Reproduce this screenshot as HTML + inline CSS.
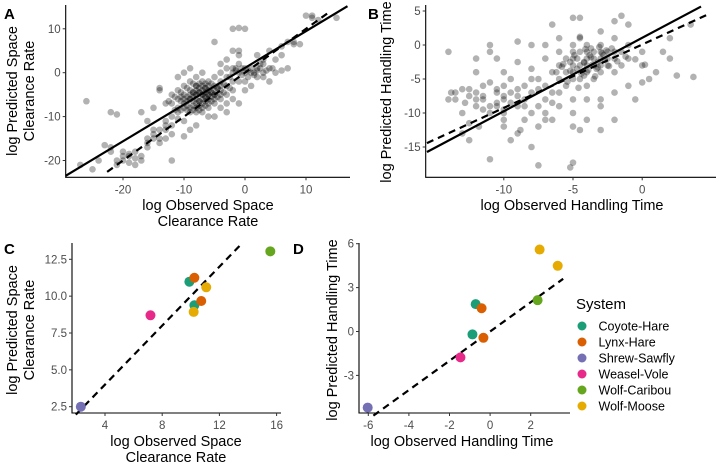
<!DOCTYPE html>
<html><head><meta charset="utf-8">
<style>
html,body{margin:0;padding:0;background:#fff;}
svg{display:block;font-family:"Liberation Sans Narrow","Liberation Sans",sans-serif;}
</style></head>
<body>
<svg id="fig" width="720" height="474" viewBox="0 0 720 474" xmlns="http://www.w3.org/2000/svg"></svg>
<script>
// Panel A data
const aX = [-27,-25,-24,-26,-22,-21,-23,-22,-20,-20,-19,-18,-17,-12,-16,-15,-14,-14,-15,-13,-13,-12,-16,-17,-15,-14,-14,-12,-11,-11,-10,-8,-9,-10,-18,-21,-20,-19,-16,-13,-12,
 -12,-11,-11,-10,-10,-10,-10,-9,-9,-9,-9,-9,-9,-8,-8,-8,-8,-8,-8,-8,-8,-8,-7,-7,-7,-7,-7,-7,-7,-7,-6,-6,-6,-6,-6,-6,-6,-5,-5,-5,-5,-5,-5,-4,-4,-4,-4,-3,-3,-3,-2,-2,-12,-13,-11,-10,-9,-7,-6,-5,-4,-3,-2,
 -7.5,-6.5,-8.5,-7.5,-6.5,-5.5,-8.5,-9.5,-10.5,-7.5,-6.5,-5.5,-4.5,-8.5,-7.5,-6.5,
 -10.5,-10.5,-10.5,-9.5,-9.5,-9.5,-9.5,-8.5,-8.5,-8.5,-8.5,-7.5,-7.5,-7.5,-7.5,-6.5,-6.5,-6.5,-6.5,-5.5,-5.5,-5.5,-4.5,-4.5,-3.5,-3.5,-2.5,-11.5,-11.5,-12.5,-8,-7,-6,-9,-10,-5,-4,
 -17,-18,-19,-16,-15,-21,-22,-13,-14,-11,
 -4,-3,-2,-2,-1,-1,0,0,1,1,2,2,3,3,4,5,4,1,-1,0,-1,-2,-1,-3,-2,0,-1,2,3,5,6,6,7,8,7,8,9,10,11,12,11,15,-5,-4,6,2,-3,-1,0,3,4,
 -1.5,-0.5,0.5,1.5,2.5,-2.5,-0.5,1.5,0.5,-1.5,3.5,4.5,2.5];
const aY = [-21,-22,-20,-6.5,-9,-9.5,-16.5,-17,-18,-19,-19,-18,-20,-20,-15,-13,-15,-16,-14,-12,-11,-10,-11,-9,-8,-4,-3.5,-14,-9,-10.5,-11,-12,-13,-14.5,-21,-21,-20,-20.5,-17,-15,-12,
 -7,-6,-4,-3,-5,-7,-8,-2,-4,-5,-6,-8,-9,-1,-3,-4,-5,-6,-7,-8,-9,-3,-2,-3,-4,-5,-6,-7,-8,-9,-2,-3,-4,-5,-6,-7,-8,-1,-3,-4,-5,-6,-7,-2,-4,-5,-6,-3,-5,-7,-4,-6,-5,-7,-1,0,1,0,-10,-10,-8,-1,-2,
 -4.5,-5.5,-5.5,-6.5,-3.5,-4.5,-4.5,-6.5,-5.5,-3.5,-6.5,-5.5,-3.5,-7.5,-7.5,-4.5,
 -4.5,-6.5,-8.5,-3.5,-5.5,-7.5,-8.5,-2.5,-4.5,-6.5,-8.5,-2.5,-4.5,-6.5,-8.5,-2.5,-3.5,-5.5,-7.5,-2.5,-4.5,-6.5,-3.5,-5.5,-2.5,-4.5,-3.5,-5.5,-8.5,-6.5,-5,-5,-5,-6,-6,-5,-3,
 -19,-19.5,-18.5,-16,-15,-20,-18,-13,-13,-8,
 0,1,0,1,0,2,0,1,0,1,0.5,1,0,-1,1,0,-2,-3,-2,-4,5,5,4,3,10,10,10.2,4,2,3,4,6,7,7,1,6.5,6.5,13,12.5,12,13,12.5,7,2,0.5,-1,-9,-7,-2,3,5,
 0.5,-0.5,0.5,0,1,-1,1,-0.5,-1,1,0.5,1,2];
// Panel B data
const bX = [-14,-13.8,-13.5,-13,-13,-12.5,-12,-12,-12,-11.5,-11.5,-11,-11,-11,-11,-10.5,-10.5,-10,-10,-10,-10,-10,-9.5,-9.5,-9,-9,-9,-8.5,-8.5,-8.5,-8,-8,-8,-8,-8,-7.5,-7.5,-7.5,-7.5,-7,-7,-7,-7,-6.5,-6.5,-6.5,-11,-9.5,-12.5,-13,-14,-12,-10,-9,-10.5,-11.8,-8.8,
 -6,-6,-6,-6,-5.5,-5.5,-5.5,-5,-5,-5,-5,-5,-5,-5,-4.5,-4.5,-4.5,-4,-4,-4,-4,-4,-4,-3.5,-3.5,-3.5,-3.5,-3,-3,-3,-3,-3,-2.5,-2.5,-2.5,-2,-2,-2,-1.5,-1.5,-1,-6,-5,-5,-4.5,-4,-3,-3,-2,-4,-5,-5.2,-4.5,-5,-4.5,-4.5,-2,-1.5,-1,-3,-2,-1,0,0,0.5,1,0,1.5,2,-1,-2,-3,2.5,3.5,3.7,2,-6,-7,-6.5,-0.5,
 -4.2,-3.8,-3.2,-2.8,-4.7,-3.3,-2.2,-5.2,-4.2,-3.7,
 -12.5,-11.5,-10.5,-9.5,-12,-11,-10,-9,-11.5,-10.5,-12.5,-8.5,-7.5,-6.5,-9,-8,-7,-10,-13.5,-12.8,
 -4.7,-4.2,-3.7,-3.2,-2.7,-5.2,-4.4,-3.6,-2.9,-4.9,-3.4,-2.4,-5.7,-1.8,-4.1,-3.1,-5.4,-2.6,-3.9,-4.6,-1.2,-0.5,0.2,-6.2,-5.8];
const bY = [-1,-7,-8,-10,-6.5,-11.5,-9,-7,-2,-6,-8,-10,-5.5,0,-1,-7,-9,-6,-8,-10,-11,-12,-7,-5,-9,-2.5,-13,-6,-8,-11,-3.5,-7,-10,0,-15,-5,-9,-12,-17.7,-2,-6,-8,-10,-4,-7,-11,-16.8,-14,-14,-13,-8,-4,-4,0.5,-2,-12,-12.5,
 -1,-3,-5,-7,-2,-4,-6,0,-1,-2,-3,-4,-5,-8,-1,-3,-5,0,-1,-2,-3,-4,-6,-1,-2,-3,-5,0,-1,-2,-3,-4,-1,-2,-3,-1,-2,-4,-1,-3,-2,-9,-10,-12,-12.5,-11,-9,-8,-7,-8,-17.3,-18,1,4,4,1.2,3.5,4.3,3,2,1,0,-1,-3,-5,-4,-5.5,-1,-2,-6,-11,-12.5,-4.5,3,-4.7,1,1,0,3,-8,
 -2.5,-1.5,-2.5,-1.5,-3.5,-3.5,-0.5,-2.5,-4.5,-0.5,
 -6.5,-7.5,-6.5,-8.5,-8,-9,-7.5,-6.5,-9.5,-8.5,-7.5,-9,-6.5,-8.5,-7.5,-5,-11,-9.5,-7,-8.5,
 -2,-2.6,-1.8,-3.3,-2.2,-3.8,-4.2,-2.9,-1.2,-1.5,-4.6,-3.1,-2.8,-2.4,-0.6,-0.3,-5.4,-0.8,-3.7,-6.3,-1.7,-2.1,-2.9,-4,-3.2];
// Panel C/D data
const systems = ["Coyote-Hare","Lynx-Hare","Shrew-Sawfly","Weasel-Vole","Wolf-Caribou","Wolf-Moose"];
const sysColors = ["#1b9e77","#d95f02","#7570b3","#e7298a","#66a61e","#e6ab02"];
const cSys = [0,0,1,1,2,3,4,5,5];
const cX = [9.9,10.25,10.25,10.73,2.31,7.18,15.56,11.08,10.2];
const cY = [10.98,9.38,11.25,9.67,2.5,8.7,13.04,10.6,8.93];
const dSys = [0,0,1,1,2,3,4,5,5];
const dX = [-0.71,-0.87,-0.42,-0.33,-6.03,-1.46,2.34,2.44,3.33];
const dY = [1.87,-0.2,1.59,-0.43,-5.2,-1.77,2.14,5.6,4.49];
const aTicksX = [-20,-10,0,10], aTicksY = [-20,-10,0,10];
const bTicksX = [-10,-5,0], bTicksY = [-15,-10,-5,0,5];
const cTicksX = [4,8,12,16], cTicksY = [2.5,5.0,7.5,10.0,12.5];
const dTicksX = [-6,-4,-2,0,2], dTicksY = [-3,0,3,6];

const NS = "http://www.w3.org/2000/svg";
const svg = document.getElementById('fig');
function mk(tag, attrs, parent){const e=document.createElementNS(NS,tag);for(const k in attrs)e.setAttribute(k,attrs[k]);(parent||svg).appendChild(e);return e;}
function lin(d0,d1,p0,p1){return v=>p0+(v-d0)*(p1-p0)/(d1-d0);}

function panel(cfg){
  const g = mk('g',{});
  
  
  const sx=cfg.sx, sy=cfg.sy;
  if(cfg.pts){
    const pg=mk('g',{},g);
    
    
    for(let i=0;i<cfg.pts[0].length;i++){
      const c=mk('circle',{cx:sx(cfg.pts[0][i]),cy:sy(cfg.pts[1][i]),r:3.3,fill:'#000','fill-opacity':0.3},pg);
      
      
    }
  }
  (cfg.lines||[]).forEach(L=>{
    const l=mk('line',{x1:sx(L.x0),y1:sy(L.s*L.x0+L.b),x2:sx(L.x1),y2:sy(L.s*L.x1+L.b),stroke:'#000','stroke-width':2.2,'stroke-dasharray':L.dash?'7,5':'none'},g);
    
    
  });
  if(cfg.cpts){
    for(let i=0;i<cfg.cpts[0].length;i++){
      const c=mk('circle',{cx:sx(cfg.cpts[0][i]),cy:sy(cfg.cpts[1][i]),r:5,fill:sysColors[cfg.cpts[2][i]]},g);
      
      
    }
  }
  const [L,R,T,B]=cfg.box;
  const ax=mk('path',{d:`M${L},${T}V${B}H${R}`,stroke:'#000','stroke-width':1.1,fill:'none'},g);
  
  
  cfg.tx.forEach(t=>{
    mk('line',{x1:sx(t),x2:sx(t),y1:B,y2:B+3,stroke:'#333'},g);
    const tt=mk('text',{x:sx(t),y:B+16,'text-anchor':'middle','font-size':11.5,fill:'#4d4d4d'},g);
    tt.textContent=cfg.fmt?cfg.fmt(t):t;
    
    
  });
  cfg.ty.forEach(t=>{
    mk('line',{x1:L-3,x2:L,y1:sy(t),y2:sy(t),stroke:'#333'},g);
    const tt=mk('text',{x:L-5,y:sy(t)+4,'text-anchor':'end','font-size':11.5,fill:'#4d4d4d'},g);
    tt.textContent=cfg.fmtY?cfg.fmtY(t):t;
    
    
  });
  cfg.xt.forEach((s,i)=>{
    const t=mk('text',{x:cfg.xtx,y:cfg.xty+i*16,'text-anchor':'middle','font-size':14.5,fill:'#000'},g);
    t.textContent=s;
    
    
  });
  cfg.yt.forEach((s,i)=>{
    const x=cfg.ytx+i*17;
    const t=mk('text',{x:x,y:cfg.yty,'text-anchor':'middle','font-size':14.5,fill:'#000',transform:`rotate(-90 ${x} ${cfg.yty})`},g);
    t.textContent=s;
    
    
  });
  const pl=mk('text',{x:cfg.lab[0],y:cfg.lab[1],'font-size':15,'font-weight':'bold',fill:'#000'},g);
  pl.textContent=cfg.letter;
  
  
}

panel({name:'panel-a',letter:'A',lab:[4,19],
  sx:lin(0,10,245,306), sy:lin(0,10,72.7,28.8), box:[65.7,350,5,177.3],
  pts:[aX,aY],
  lines:[{x0:-29.4,x1:16.8,s:0.836,b:1.1,dash:false},{x0:-22.6,x1:14.1,s:1,b:0,dash:true}],
  tx:aTicksX, ty:aTicksY, xt:['log Observed Space','Clearance Rate'], xtx:208, xty:210,
  yt:['log Predicted Space','Clearance Rate'], ytx:17, yty:91});
panel({name:'panel-b',letter:'B',lab:[368,19],
  sx:lin(0,-5,642.2,573), sy:lin(0,5,45,11), box:[425.7,716,5,177.3],
  pts:[bX,bY],
  lines:[{x0:-15.55,x1:4.25,s:1.08,b:1.06,dash:false},{x0:-15.55,x1:4.9,s:0.932,b:0.07,dash:true}],
  tx:bTicksX, ty:bTicksY, xt:['log Observed Handling Time'], xtx:572, xty:210,
  yt:['log Predicted Handling Time'], ytx:391, yty:92});
panel({name:'panel-c',letter:'C',lab:[4,254],
  sx:lin(0,10,47.8,190.8), sy:lin(2.5,12.5,406.7,259.3), box:[72,281,243,413],
  cpts:[cX,cY,cSys],
  lines:[{x0:1.96,x1:13.5,s:1,b:0,dash:true}],
  tx:cTicksX, ty:cTicksY, fmtY:v=>v.toFixed(1), xt:['log Observed Space','Clearance Rate'], xtx:176, xty:446,
  yt:['log Predicted Space','Clearance Rate'], ytx:17, yty:330});
panel({name:'panel-d',letter:'D',lab:[293,254],
  sx:lin(0,2,490.1,530.7), sy:lin(0,3,331.5,287.6), box:[359,570,243,413],
  cpts:[dX,dY,dSys],
  lines:[{x0:-5.75,x1:3.6,s:1,b:0,dash:true}],
  tx:dTicksX, ty:dTicksY, xt:['log Observed Handling Time'], xtx:462, xty:446,
  yt:['log Predicted Handling Time'], ytx:337, yty:330});

const lg=mk('g',{});


const lt=mk('text',{x:576,y:309,'font-size':15,fill:'#000'},lg);
lt.textContent='System';


systems.forEach((s,i)=>{
  const y=326+i*16;
  const c=mk('circle',{cx:582,cy:y,r:4.5,fill:sysColors[i]},lg);
  
  
  const t=mk('text',{x:598.5,y:y+4.5,'font-size':12.5,fill:'#000'},lg);
  t.textContent=s;
  
  
});
</script>
</body></html>
